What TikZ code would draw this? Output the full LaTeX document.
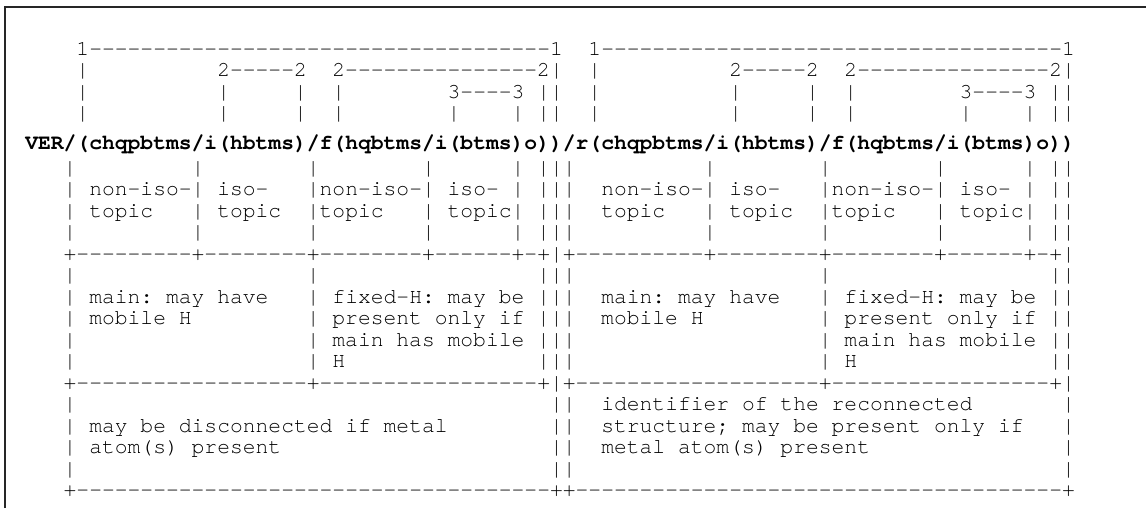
\documentclass[tikz,border=0pt]{standalone}
\usepackage{fontspec}
\setmonofont{texgyrecursor-regular.otf}[BoldFont=texgyrecursor-bold.otf,Ligatures=NoCommon]
\usepackage{tikz}

\newlength\charw
\setlength\charw{9.6pt}
\newcommand\gap[1]{\hspace*{#1\charw}}
\newcommand\dashes[1]{\foreach\k in {1,...,#1}{-}}

\begin{document}
\begin{tikzpicture}[x=0.75pt,y=-0.75pt,
  ascii/.style={anchor=base west,inner sep=0pt,text=black,
                font={\ttfamily\fontsize{16pt}{16pt}\selectfont\frenchspacing\spaceskip\charw\relax}},
  head/.style={ascii,font={\ttfamily\bfseries\fontsize{16pt}{16pt}\selectfont}},
  frame/.style={draw=black!85,line width=1.5pt}]
  \useasboundingbox (0,0) rectangle (1146,508);
  \draw[frame] (5,508) -- (5,7) -- (1146,7);
  % nesting levels above the identifier
  \node[ascii] (lvl1) at (76.2,55) {1\dashes{36}1\gap{2}1\dashes{36}1};
  \node[ascii] (lvl2) at (76.2,76.5) {|\gap{10}2\dashes{5}2\gap{2}2\dashes{15}2|\gap{2}|\gap{10}2\dashes{5}2\gap{2}2\dashes{15}2|};
  \node[ascii] (lvl3) at (76.2,98) {|\gap{10}|\gap{5}|\gap{2}|\gap{8}3\dashes{4}3\gap{1}||\gap{2}|\gap{10}|\gap{5}|\gap{2}|\gap{8}3\dashes{4}3\gap{1}||};
  \node[ascii] (tick) at (76.2,119.5) {|\gap{10}|\gap{5}|\gap{2}|\gap{8}|\gap{4}|\gap{1}||\gap{2}|\gap{10}|\gap{5}|\gap{2}|\gap{8}|\gap{4}|\gap{1}||};
  % the identifier
  \node[head] (ver) at (25,149) {VER/(chqpbtms/i(hbtms)/f(hqbtms/i(btms)o))/r(chqpbtms/i(hbtms)/f(hqbtms/i(btms)o))};
  % layer boxes
  \node[ascii] (isoa) at (63.4,174) {|\gap{9}|\gap{8}|\gap{8}|\gap{6}|\gap{1}|||\gap{10}|\gap{8}|\gap{8}|\gap{6}|\gap{1}||};
  \node[ascii] (isob) at (63.4,195.5) {|\gap{1}non-iso-|\gap{1}iso-\gap{3}|non-iso-|\gap{1}iso-\gap{1}|\gap{1}|||\gap{2}non-iso-|\gap{1}iso-\gap{3}|non-iso-|\gap{1}iso-\gap{1}|\gap{1}||};
  \node[ascii] (isoc) at (63.4,217) {|\gap{1}topic\gap{3}|\gap{1}topic\gap{2}|topic\gap{3}|\gap{1}topic|\gap{1}|||\gap{2}topic\gap{3}|\gap{1}topic\gap{2}|topic\gap{3}|\gap{1}topic|\gap{1}||};
  \node[ascii] (isod) at (63.4,238.5) {|\gap{9}|\gap{8}|\gap{8}|\gap{6}|\gap{1}|||\gap{10}|\gap{8}|\gap{8}|\gap{6}|\gap{1}||};
  \node[ascii] (sepa) at (63.4,260) {+\dashes{9}+\dashes{8}+\dashes{8}+\dashes{6}+-+|+\dashes{10}+\dashes{8}+\dashes{8}+\dashes{6}+-+|};
  \node[ascii] (mobh) at (63.4,281.5) {|\gap{18}|\gap{17}|||\gap{19}|\gap{17}||};
  \node[ascii] (mobi) at (63.4,303) {|\gap{1}main: may have\gap{3}|\gap{1}fixed-H: may be\gap{1}|||\gap{2}main: may have\gap{3}|\gap{1}fixed-H: may be\gap{1}||};
  \node[ascii] (mobj) at (63.4,324.5) {|\gap{1}mobile H\gap{9}|\gap{1}present only if\gap{1}|||\gap{2}mobile H\gap{9}|\gap{1}present only if\gap{1}||};
  \node[ascii] (mobk) at (63.4,346) {|\gap{18}|\gap{1}main has mobile\gap{1}|||\gap{19}|\gap{1}main has mobile\gap{1}||};
  \node[ascii] (mobl) at (63.4,367.5) {|\gap{18}|\gap{1}H\gap{15}|||\gap{19}|\gap{1}H\gap{15}||};
  \node[ascii] (sepb) at (63.4,389) {+\dashes{18}+\dashes{17}+|+\dashes{19}+\dashes{17}+|};
  \node[ascii] (meta) at (63.4,410.5) {|\gap{37}||\gap{2}identifier of the reconnected\gap{7}|};
  \node[ascii] (metb) at (63.4,432) {|\gap{1}may be disconnected if metal\gap{8}||\gap{2}structure; may be present only if\gap{3}|};
  \node[ascii] (metc) at (63.4,453.5) {|\gap{1}atom(s) present\gap{21}||\gap{2}metal atom(s) present\gap{15}|};
  \node[ascii] (metd) at (63.4,475) {|\gap{37}||\gap{38}|};
  \node[ascii] (sepc) at (63.4,496.5) {+\dashes{37}++\dashes{38}+};
\end{tikzpicture}
\end{document}
